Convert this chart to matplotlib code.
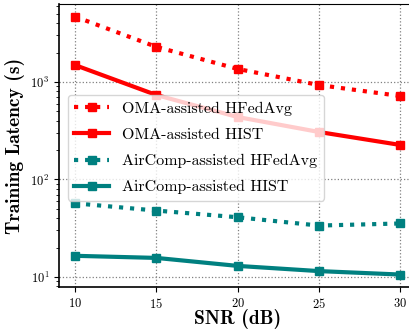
import matplotlib
matplotlib.use("Agg")
import matplotlib.pyplot as plt

# data
snr = [10, 15, 20, 25, 30]
oma_hfedavg = [4680, 2290, 1360, 930, 718]
oma_hist = [1490, 735, 437, 307, 226]
air_hfedavg = [57, 48, 41, 33.7, 35.4]
air_hist = [16.5, 15.7, 13.0, 11.5, 10.6]

plt.rcParams['font.family'] = 'cmr10'
plt.rcParams['mathtext.fontset'] = 'cm'
plt.rcParams['axes.formatter.use_mathtext'] = True

fig = plt.figure(figsize=(4.09, 3.29), dpi=100)
ax = fig.add_axes([59 / 409, 42 / 329, 357.5 / 409, 283 / 329])

red = '#ff0000'
teal = '#008080'
ax.plot(snr, oma_hfedavg, ':', color=red, lw=3, marker='s', ms=6, label='OMA-assisted HFedAvg')
ax.plot(snr, oma_hist, '-', color=red, lw=3, marker='s', ms=6, label='OMA-assisted HIST')
ax.plot(snr, air_hfedavg, ':', color=teal, lw=3, marker='s', ms=6, label='AirComp-assisted HFedAvg')
ax.plot(snr, air_hist, '-', color=teal, lw=3, marker='s', ms=6, label='AirComp-assisted HIST')

ax.set_yscale('log')
ax.set_xlim(9.015, 31)
ax.set_ylim(7.9, 6300)
ax.set_xticks(snr)
ax.grid(True, which='major', linestyle=':', color='gray', lw=0.9)
ax.tick_params(labelsize=9)
ax.tick_params(axis='x', pad=3.5)

ax.set_xlabel('SNR (dB)', fontfamily='cmb10', fontsize=14, labelpad=-1.5)
ax.set_ylabel('Training Latency (s)', fontfamily='cmb10', fontsize=14, labelpad=4)

ax.legend(loc='upper left', bbox_to_anchor=(0.025, 0.678), borderaxespad=0,
          fontsize=11.5, framealpha=0.8, handlelength=2.2, labelspacing=0.75)

for s in ['left', 'bottom']:
    ax.spines[s].set_linewidth(1.2)

fig.savefig('out.png', dpi=100)
